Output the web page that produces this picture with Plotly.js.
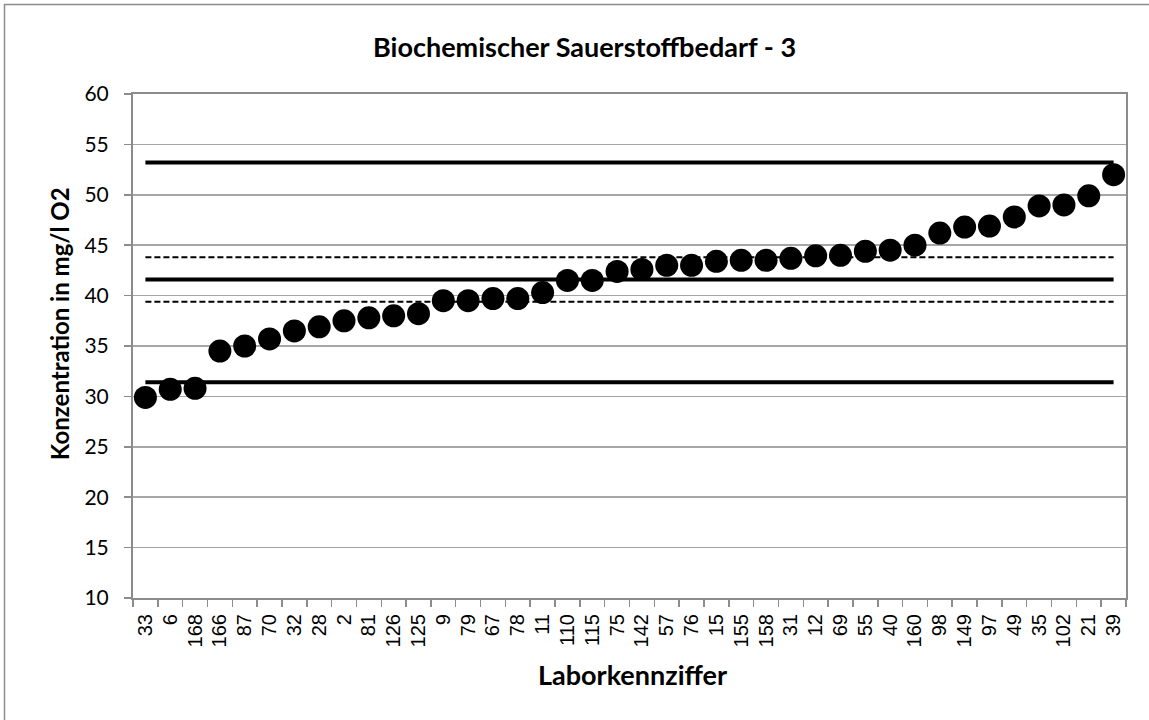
<!DOCTYPE html>
<html>
<head>
<meta charset="utf-8">
<script src="https://cdn.plot.ly/plotly-3.0.1.min.js"></script>
<style>html,body{margin:0;padding:0;background:#fff;overflow:hidden;}#chart{width:1149px;height:720px;}</style>
</head>
<body>
<div id="chart"></div>
<script>
const labCodes = ["33","6","168","166","87","70","32","28","2","81","126","125","9","79","67","78","11","110","115","75","142","57","76","15","155","158","31","12","69","55","40","160","98","149","97","49","35","102","21","39"];
const concentrations = [29.9,30.7,30.8,34.5,35.0,35.7,36.5,36.9,37.5,37.8,38.0,38.2,39.5,39.5,39.7,39.7,40.3,41.5,41.5,42.4,42.6,43.0,43.0,43.4,43.5,43.5,43.7,43.95,44.0,44.4,44.5,45.0,46.2,46.8,46.9,47.8,48.9,49.0,49.9,52.0];
const upperTolerance = 53.2;
const assignedValue = 41.6;
const lowerTolerance = 31.4;
const upperDashed = 43.8;
const lowerDashed = 39.4;
const yTickValues = [10,15,20,25,30,35,40,45,50,55,60];

function hline(v, dash, width) {
  return {x: labCodes, y: labCodes.map(() => v), type: 'scatter', mode: 'lines',
    line: {color: '#000', width: width, dash: dash}, hoverinfo: 'skip', showlegend: false, cliponaxis: false};
}

const data = [
  hline(upperTolerance, 'solid', 4),
  hline(assignedValue, 'solid', 4),
  hline(lowerTolerance, 'solid', 4),
  hline(upperDashed, '6px,3px', 2),
  hline(lowerDashed, '6px,3px', 2),
  {x: labCodes, y: concentrations, type: 'scatter', mode: 'markers',
   marker: {color: '#000', size: 23}, showlegend: false, cliponaxis: false}
];

const gray = '#8c8c8c';
const L = 133, T = 94, W = 993, H = 503.7;
const px = v => (v - L) / W;
const py = v => (T + H - v) / H;
const layout = {
  width: 1149, height: 720,
  margin: {l: 133, r: 23, t: 94, b: 122.3},
  paper_bgcolor: '#fff', plot_bgcolor: '#fff',
  font: {family: 'Lato, "Open Sans", sans-serif', color: '#000'},
  showlegend: false,
  xaxis: {
    type: 'category', range: [-0.5, 39.5],
    tickangle: -90, tickson: 'boundaries', ticks: 'outside', ticklen: 7, tickcolor: gray, tickwidth: 1.5,
    ticklabelstandoff: 6,
    tickfont: {family: '"Liberation Sans", Arial, sans-serif', size: 20, color: '#000'},
    showgrid: false, showline: true, linecolor: gray, linewidth: 2, mirror: true,
    zeroline: false, fixedrange: true
  },
  yaxis: {
    range: [10, 60], tickvals: yTickValues, ticks: 'outside', ticklen: 7, tickcolor: gray, tickwidth: 1.5,
    ticklabelstandoff: 11,
    tickfont: {family: 'Lato, "Open Sans", sans-serif', size: 21, color: '#000'},
    showgrid: true, gridcolor: '#a6a6a6', gridwidth: 1.5,
    showline: true, linecolor: gray, linewidth: 2, mirror: true, zeroline: false, fixedrange: true
  },
  annotations: [
    {text: '<b>Biochemischer Sauerstoffbedarf - 3</b>', xref: 'paper', yref: 'paper',
     x: px(584.5), y: py(47), xanchor: 'center', yanchor: 'middle',
     showarrow: false, font: {size: 27, color: '#000'}},
    {text: '<b>Konzentration in mg/l O2</b>', xref: 'paper', yref: 'paper',
     x: px(59), y: py(324), xanchor: 'center', yanchor: 'middle',
     textangle: -90, showarrow: false, font: {size: 24, color: '#000'}},
    {text: '<b>Laborkennziffer</b>', xref: 'paper', yref: 'paper',
     x: px(632.5), y: py(674), xanchor: 'center', yanchor: 'middle',
     showarrow: false, font: {size: 27, color: '#000'}}
  ],
  shapes: [
    {type: 'rect', xref: 'paper', yref: 'paper', x0: px(4.5), x1: 1.4, y0: -0.6, y1: py(4.5),
     line: {color: '#8c8c8c', width: 1.5}, fillcolor: 'rgba(0,0,0,0)', layer: 'below'}
  ]
};

Plotly.newPlot('chart', data, layout, {displayModeBar: false, staticPlot: true});
</script>
</body>
</html>
